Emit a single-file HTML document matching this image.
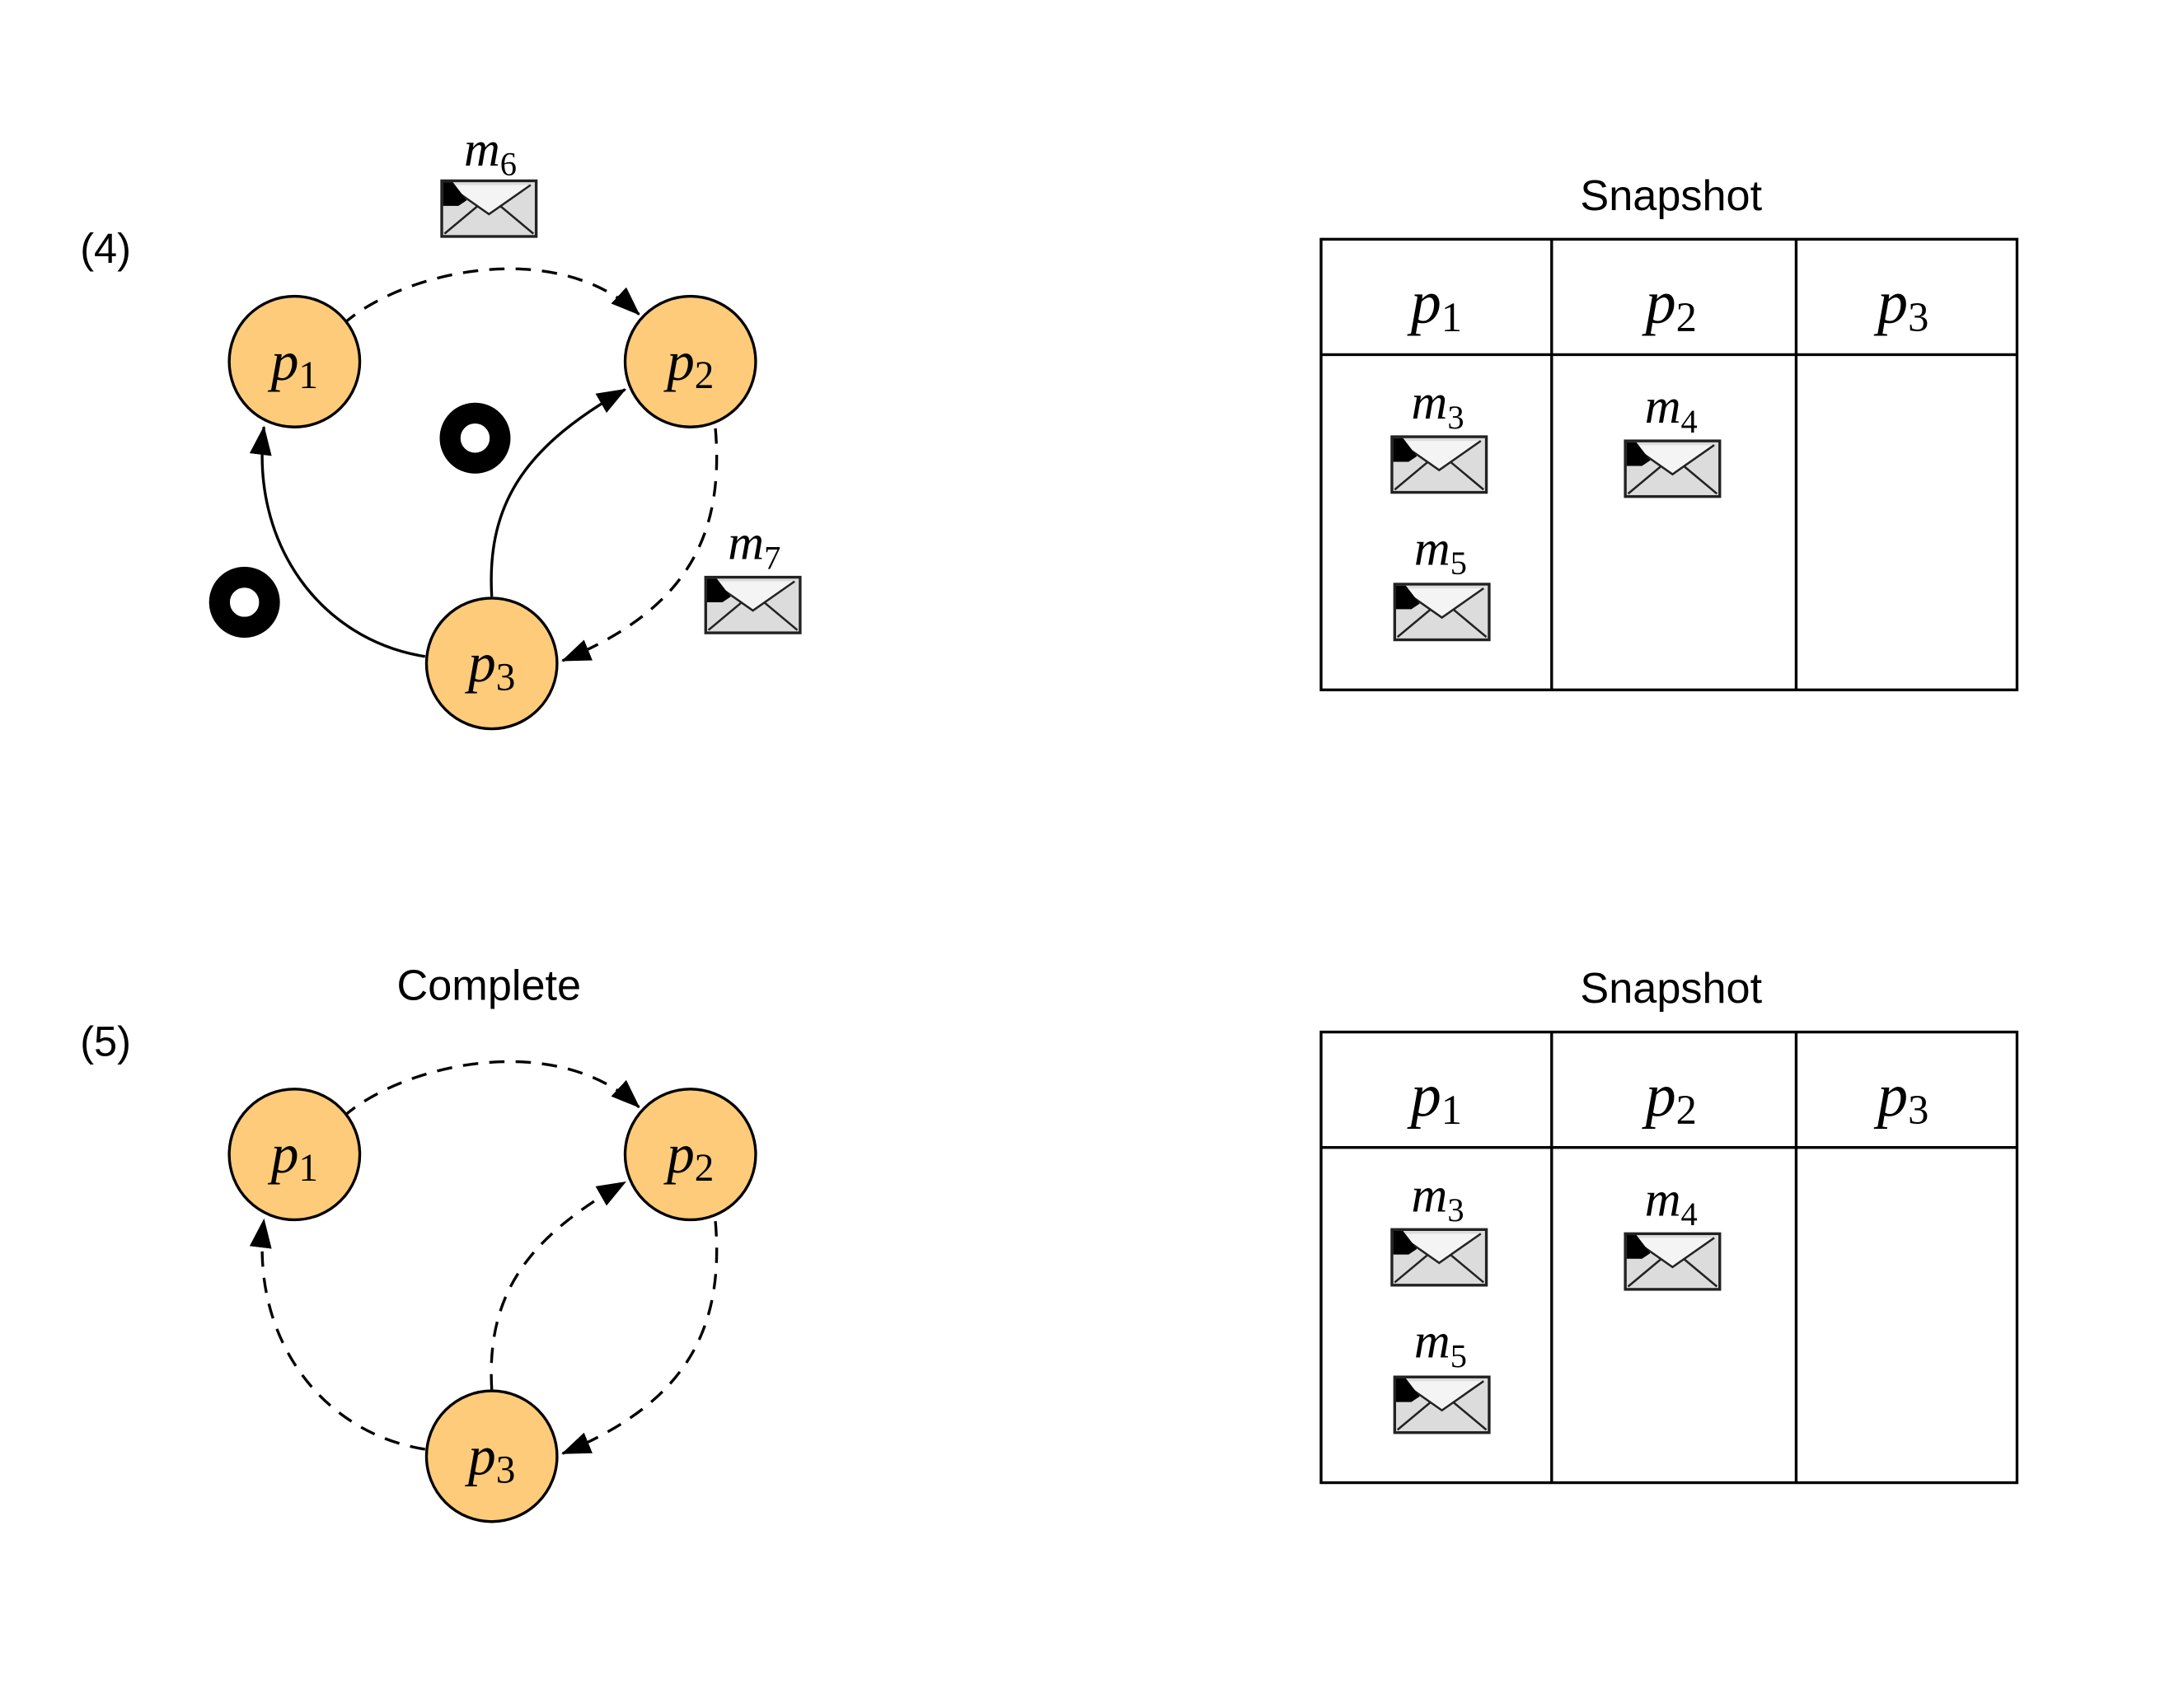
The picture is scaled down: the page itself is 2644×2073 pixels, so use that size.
<!DOCTYPE html>
<html><head><meta charset="utf-8"><style>
html,body{margin:0;padding:0;background:#fff;}
svg{display:block;}
.m{font-family:"Liberation Serif",serif;font-style:italic;}
.s{font-family:"Liberation Sans",sans-serif;}
</style></head><body>
<svg width="2644" height="2073" viewBox="0 0 1568.6 1228" preserveAspectRatio="none" xmlns="http://www.w3.org/2000/svg">
<defs>
<marker id="ar" markerUnits="userSpaceOnUse" markerWidth="24" markerHeight="20" refX="20" refY="8" orient="auto">
<path d="M0,0 L21,8 L0,16 Z" fill="#000"/>
</marker>
<g id="env">
<rect x="0" y="0" width="68" height="40" fill="#dcdcdc" stroke="#222" stroke-width="2"/>
<path d="M4,3 L34,24 L64,3" fill="#f4f4f4" stroke="#222" stroke-width="1.5"/>
<path d="M2,38 L26,18 M66,38 L42,18" stroke="#222" stroke-width="1.5" fill="none"/>
<path d="M1,1 L8,1 L18,14 L12,18 L1,18 Z" fill="#000"/>
</g>
<g id="donut"><circle r="18" fill="none" stroke="#000" stroke-width="15"/></g>
</defs>

<!-- Panel 4 -->
<text x="76" y="189" class="s" font-size="30" text-anchor="middle">(4)</text>
<text x="353" y="119" class="m" font-size="36" text-anchor="middle">m<tspan font-size="24" dy="7" font-style="normal">6</tspan></text>
<use href="#env" x="318" y="130"/>
<text x="543" y="402" class="m" font-size="36" text-anchor="middle">m<tspan font-size="24" dy="7" font-style="normal">7</tspan></text>
<use href="#env" x="508" y="415"/>
<use href="#donut" x="342" y="315"/>
<use href="#donut" x="176" y="433"/>

<g fill="none" stroke="#000" stroke-width="2">
<path d="M247,233 C290,195 400,170 460,226" stroke-dasharray="11,8" marker-end="url(#ar)"/>
<path d="M515,308 C522,390 490,440 405,475" stroke-dasharray="11,8" marker-end="url(#ar)"/>
<path d="M306,472 C230,460 180,390 190,307" marker-end="url(#ar)"/>
<path d="M354,429 C350,360 380,320 450,280" marker-end="url(#ar)"/>
</g>
<g fill="#fdcb7a" stroke="#000" stroke-width="2">
<circle cx="212" cy="260" r="47"/><circle cx="497" cy="260" r="47"/><circle cx="354" cy="477" r="47"/>
</g>
<g class="m" font-size="40" text-anchor="middle">
<text x="212" y="273">p<tspan font-size="28" dy="6" font-style="normal">1</tspan></text>
<text x="497" y="273">p<tspan font-size="28" dy="6" font-style="normal">2</tspan></text>
<text x="354" y="490">p<tspan font-size="28" dy="6" font-style="normal">3</tspan></text>
</g>

<!-- Table 4 -->
<text x="1203" y="151" class="s" font-size="31" text-anchor="middle">Snapshot</text>
<g fill="none" stroke="#000" stroke-width="2">
<rect x="951" y="172" width="501" height="324"/>
<line x1="951" y1="255" x2="1452" y2="255"/>
<line x1="1117" y1="172" x2="1117" y2="496"/>
<line x1="1293" y1="172" x2="1293" y2="496"/>
</g>
<g class="m" font-size="44" text-anchor="middle">
<text x="1034" y="232">p<tspan font-size="30" dy="6" font-style="normal">1</tspan></text>
<text x="1203" y="232">p<tspan font-size="30" dy="6" font-style="normal">2</tspan></text>
<text x="1370" y="232">p<tspan font-size="30" dy="6" font-style="normal">3</tspan></text>
</g>
<g class="m" font-size="36" text-anchor="middle">
<text x="1035" y="301">m<tspan font-size="24" dy="7" font-style="normal">3</tspan></text>
<text x="1203" y="304">m<tspan font-size="24" dy="7" font-style="normal">4</tspan></text>
<text x="1037" y="406">m<tspan font-size="24" dy="7" font-style="normal">5</tspan></text>
</g>
<use href="#env" x="1002" y="314"/>
<use href="#env" x="1170" y="317"/>
<use href="#env" x="1004" y="420"/>

<!-- Panel 5 -->
<text x="76" y="759" class="s" font-size="30" text-anchor="middle">(5)</text>
<text x="352" y="719" class="s" font-size="31" text-anchor="middle">Complete</text>
<g fill="none" stroke="#000" stroke-width="2" stroke-dasharray="11,8">
<path d="M247,803 C290,765 400,740 460,796" marker-end="url(#ar)"/>
<path d="M515,878 C522,960 490,1010 405,1045" marker-end="url(#ar)"/>
<path d="M306,1042 C230,1030 180,960 190,877" marker-end="url(#ar)"/>
<path d="M354,999 C350,930 380,890 450,850" marker-end="url(#ar)"/>
</g>
<g fill="#fdcb7a" stroke="#000" stroke-width="2">
<circle cx="212" cy="830" r="47"/><circle cx="497" cy="830" r="47"/><circle cx="354" cy="1047" r="47"/>
</g>
<g class="m" font-size="40" text-anchor="middle">
<text x="212" y="843">p<tspan font-size="28" dy="6" font-style="normal">1</tspan></text>
<text x="497" y="843">p<tspan font-size="28" dy="6" font-style="normal">2</tspan></text>
<text x="354" y="1060">p<tspan font-size="28" dy="6" font-style="normal">3</tspan></text>
</g>

<!-- Table 5 -->
<text x="1203" y="721" class="s" font-size="31" text-anchor="middle">Snapshot</text>
<g fill="none" stroke="#000" stroke-width="2">
<rect x="951" y="742" width="501" height="324"/>
<line x1="951" y1="825" x2="1452" y2="825"/>
<line x1="1117" y1="742" x2="1117" y2="1066"/>
<line x1="1293" y1="742" x2="1293" y2="1066"/>
</g>
<g class="m" font-size="44" text-anchor="middle">
<text x="1034" y="802">p<tspan font-size="30" dy="6" font-style="normal">1</tspan></text>
<text x="1203" y="802">p<tspan font-size="30" dy="6" font-style="normal">2</tspan></text>
<text x="1370" y="802">p<tspan font-size="30" dy="6" font-style="normal">3</tspan></text>
</g>
<g class="m" font-size="36" text-anchor="middle">
<text x="1035" y="871">m<tspan font-size="24" dy="7" font-style="normal">3</tspan></text>
<text x="1203" y="874">m<tspan font-size="24" dy="7" font-style="normal">4</tspan></text>
<text x="1037" y="976">m<tspan font-size="24" dy="7" font-style="normal">5</tspan></text>
</g>
<use href="#env" x="1002" y="884"/>
<use href="#env" x="1170" y="887"/>
<use href="#env" x="1004" y="990"/>
</svg>
</body></html>
